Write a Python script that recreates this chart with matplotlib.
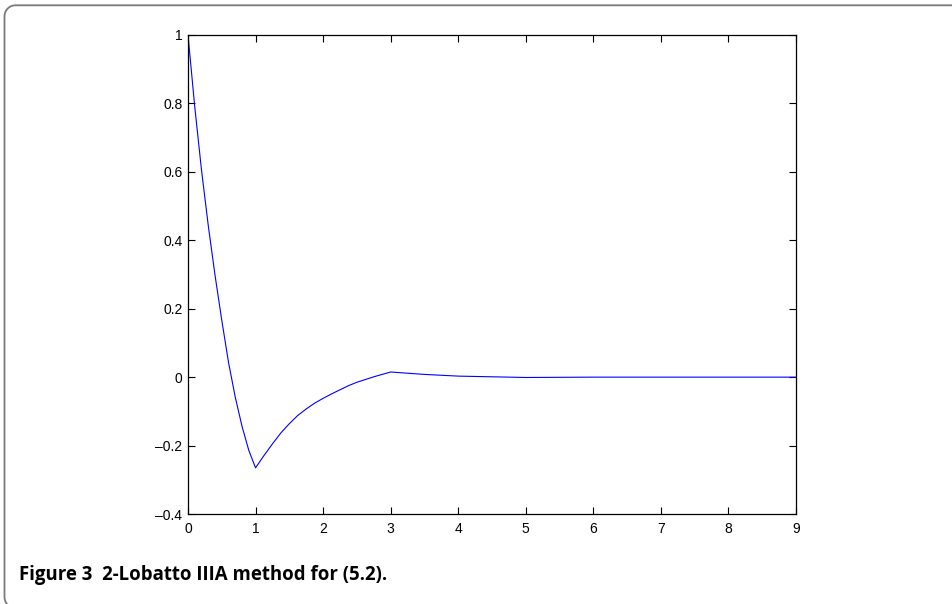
import matplotlib
matplotlib.use("Agg")
import matplotlib.pyplot as plt
import numpy as np
from matplotlib.lines import Line2D
from matplotlib.ticker import FuncFormatter

# data
t_values = [0.0, 0.1, 0.2, 0.3, 0.4, 0.5, 0.6, 0.7, 0.8, 0.9, 1.0,
            1.125, 1.25, 1.375, 1.5, 1.625, 1.75, 1.875, 2.0,
            2.125, 2.25, 2.375, 2.5, 2.625, 2.75, 2.875, 3.0,
            3.5, 4.0, 4.5, 5.0, 6.0, 7.0, 8.0, 9.0]
y_values = [1.0, 0.79, 0.605, 0.443, 0.298, 0.166, 0.043, -0.059, -0.144, -0.214, -0.265,
            -0.229, -0.195, -0.163, -0.136, -0.112, -0.093, -0.076, -0.062,
            -0.049, -0.037, -0.025, -0.015, -0.007, 0.001, 0.008, 0.015,
            0.008, 0.003, 0.001, -0.001, 0.0, 0.0, 0.0, 0.0]
x_ticks = [0, 1, 2, 3, 4, 5, 6, 7, 8, 9]
y_ticks = [-0.4, -0.2, 0, 0.2, 0.4, 0.6, 0.8, 1]
caption = "Figure 3  2-Lobatto IIIA method for (5.2)."

W, H = 953, 604
fig = plt.figure(figsize=(W / 100, H / 100), dpi=100)

# rounded frame around the figure: open on the right, corners top-left / bottom-left
r = 11.0
xl, yt, yb = 4.5, H - 5.3, -4.0
th1 = np.linspace(np.pi / 2, np.pi, 20)
th2 = np.linspace(np.pi, 1.5 * np.pi, 20)
fx = np.concatenate([[W + 20], xl + r + r * np.cos(th1), xl + r + r * np.cos(th2), [W + 20]])
fy = np.concatenate([[yt], yt - r + r * np.sin(th1), yb + r + r * np.sin(th2), [yb]])
fig.lines.append(Line2D(fx / W, fy / H, transform=fig.transFigure,
                        color="#7a7a7a", linewidth=1.3))

ax = fig.add_axes([188 / W, 1 - 514 / H, (796 - 188) / W, (514 - 35) / H])
ax.plot(t_values, y_values, color=(0, 0, 1), linewidth=0.8)
ax.set_xlim(0, 9)
ax.set_ylim(-0.4, 1)
ax.set_xticks(x_ticks)
ax.set_yticks(y_ticks)

def fmt(v, pos):
    s = ("%g" % round(v, 2))
    return s.replace("-", "\u2013")

ax.xaxis.set_major_formatter(FuncFormatter(fmt))
ax.yaxis.set_major_formatter(FuncFormatter(fmt))
ax.tick_params(direction="in", length=5, width=0.8, top=True, right=True,
               labelsize=10)
ax.tick_params(axis="x", pad=6)
ax.tick_params(axis="y", pad=4)
for lab in ax.get_xticklabels() + ax.get_yticklabels():
    lab.set_family("Liberation Sans")
for sp in ax.spines.values():
    sp.set_linewidth(0.9)

fig.text(19 / W, 1 - 575 / H, caption, fontsize=13.4, fontweight="bold",
         family="Open Sans", va="center", ha="left")

fig.savefig("out.png", dpi=100)
